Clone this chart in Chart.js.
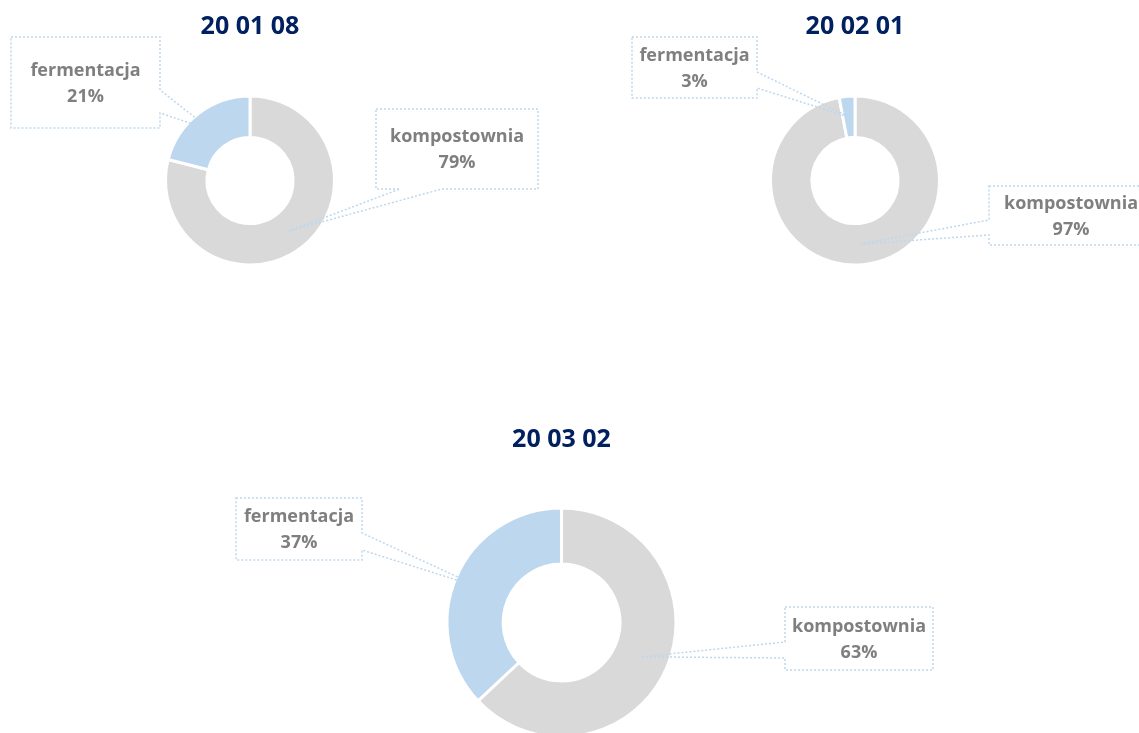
<!DOCTYPE html>
<html>
<head>
<meta charset="utf-8">
<script src="https://cdn.jsdelivr.net/npm/chart.js@4.4.1/dist/chart.umd.min.js"></script>
<style>
  html, body { margin: 0; padding: 0; background: #fff; overflow: hidden; width: 1139px; height: 733px; }
  canvas { position: absolute; left: 0; top: 0; }
</style>
</head>
<body>
<canvas id="c1" width="1139" height="733"></canvas>
<canvas id="c2" width="1139" height="733"></canvas>
<canvas id="c3" width="1139" height="800"></canvas>
<script>
// data (share in %)
const categories = ['kompostownia', 'fermentacja']
const titles = ['20 01 08', '20 02 01', '20 03 02']
const share_200108 = [79, 21]
const share_200201 = [97, 3]
const share_200302 = [63, 37]

const colors = ['#d9d9d9', '#bdd7ee']
const navy = '#002060'
const labelGrey = '#7f7f7f'
const calloutLine = 'rgb(189, 215, 238)'

// dotted callout boxes with a wedge pointing at the slice
const callouts = {
  id: 'callouts',
  afterDatasetsDraw(chart, args, opts) {
    const ctx = chart.ctx
    const meta = chart.getDatasetMeta(0)
    const data = chart.data.datasets[0].data
    const total = data.reduce((a, b) => a + b, 0)
    opts.boxes.forEach((b, i) => {
      const tip = meta.data[i].tooltipPosition()
      const { x, y, w, h, side, a1, a2 } = b
      ctx.save()
      ctx.beginPath()
      if (side === 'right') {
        ctx.moveTo(x, y); ctx.lineTo(x + w, y); ctx.lineTo(x + w, a1)
        ctx.lineTo(tip.x, tip.y); ctx.lineTo(x + w, a2)
        ctx.lineTo(x + w, y + h); ctx.lineTo(x, y + h)
      } else if (side === 'left') {
        ctx.moveTo(x, y); ctx.lineTo(x + w, y); ctx.lineTo(x + w, y + h)
        ctx.lineTo(x, y + h); ctx.lineTo(x, a2)
        ctx.lineTo(tip.x, tip.y); ctx.lineTo(x, a1)
      } else {
        ctx.moveTo(x, y); ctx.lineTo(x + w, y); ctx.lineTo(x + w, y + h)
        ctx.lineTo(a2, y + h); ctx.lineTo(tip.x, tip.y); ctx.lineTo(a1, y + h)
        ctx.lineTo(x, y + h)
      }
      ctx.closePath()
      ctx.setLineDash([2, 2])
      ctx.lineWidth = 1.5
      ctx.strokeStyle = calloutLine
      ctx.stroke()

      ctx.setLineDash([])
      ctx.fillStyle = labelGrey
      ctx.font = 'bold 18px "Open Sans"'
      ctx.textAlign = 'center'
      ctx.textBaseline = 'middle'
      const cx = x + w / 2, cy = y + h / 2 + 1
      ctx.fillText(chart.data.labels[i], cx, cy - 13)
      ctx.fillText(Math.round(data[i] / total * 100) + '%', cx, cy + 13)
      ctx.restore()
    })
  }
}

function donut(id, title, values, pad, titlePad, boxes) {
  return new Chart(document.getElementById(id), {
    type: 'doughnut',
    data: {
      labels: categories,
      datasets: [{
        data: values,
        backgroundColor: colors,
        borderColor: '#ffffff',
        borderWidth: 3
      }]
    },
    options: {
      responsive: false,
      animation: false,
      cutout: '51%',
      layout: { padding: pad },
      plugins: {
        legend: { display: false },
        tooltip: { enabled: false },
        title: {
          display: true,
          text: title,
          color: navy,
          font: { family: '"Open Sans"', size: 25, weight: 'bold', lineHeight: 1.2 },
          padding: titlePad
        },
        callouts: { boxes: boxes }
      }
    },
    plugins: [callouts]
  })
}

donut('c1', titles[0], share_200108,
  { left: 164, right: 803, top: 0, bottom: 466.5 },
  { top: 12, bottom: 52.5 },
  [
    { x: 376, y: 109, w: 162, h: 80, side: 'bottom', a1: 400, a2: 442 },
    { x: 11, y: 37, w: 149, h: 91, side: 'right', a1: 90, a2: 113 }
  ])

donut('c2', titles[1], share_200201,
  { left: 769, right: 198, top: 0, bottom: 466.5 },
  { top: 12, bottom: 52.5 },
  [
    { x: 989, y: 186, w: 164, h: 59, side: 'left', a1: 220, a2: 235 },
    { x: 632, y: 37, w: 125, h: 61, side: 'right', a1: 72, a2: 88 }
  ])

donut('c3', titles[2], share_200302,
  { left: 445.5, right: 461.5, top: 0, bottom: 61.5 },
  { top: 425, bottom: 51.5 },
  [
    { x: 785, y: 607, w: 148, h: 63, side: 'left', a1: 642, a2: 658 },
    { x: 236, y: 498, w: 126, h: 62, side: 'right', a1: 533, a2: 550 }
  ])
</script>
</body>
</html>
